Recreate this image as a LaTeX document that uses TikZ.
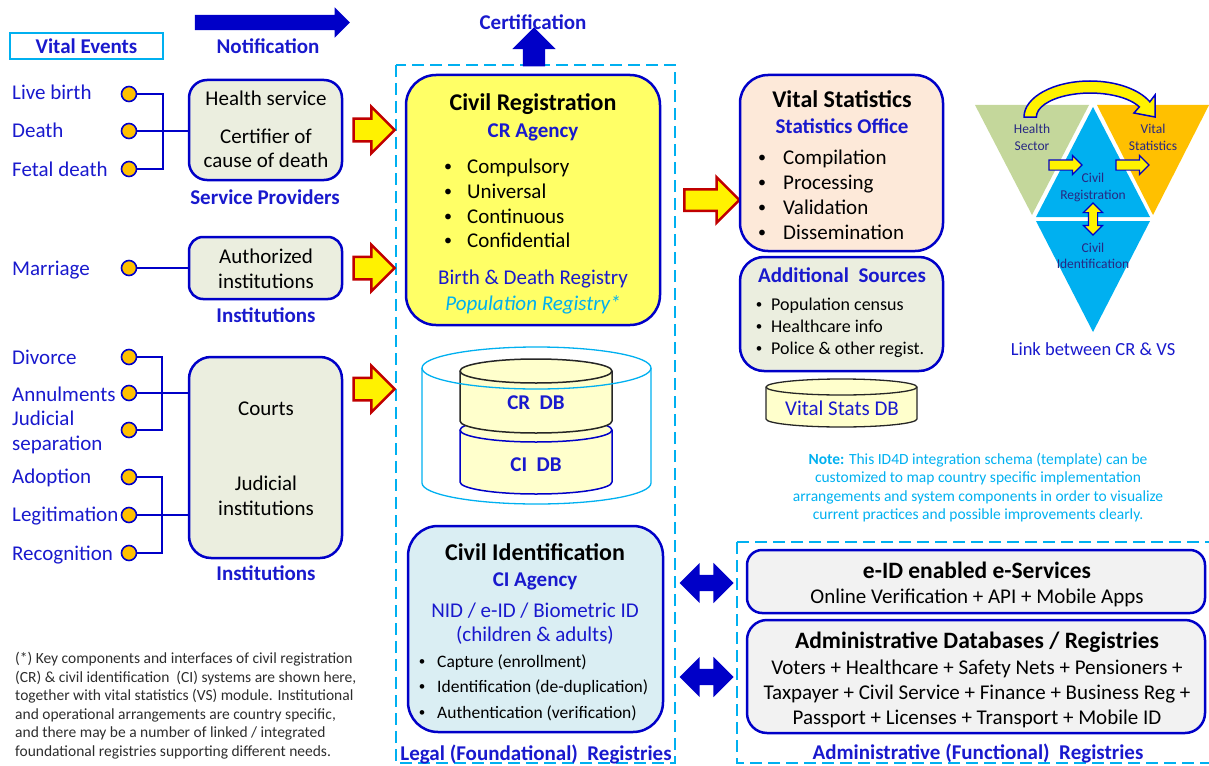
\documentclass[tikz,border=0pt]{standalone}
\usepackage{fontspec}
\setmainfont{Carlito}
\usetikzlibrary{arrows,positioning,shapes,calc}

\definecolor{txtblue}{RGB}{25,25,205}
\definecolor{boxblue}{RGB}{0,0,200}
\definecolor{skyline}{HTML}{00B0F0}
\definecolor{sagefill}{HTML}{EBEEDF}
\definecolor{crfill}{HTML}{FFFF66}
\definecolor{vsfill}{HTML}{FDE9D9}
\definecolor{cifill}{HTML}{DAEEF3}
\definecolor{greyfill}{HTML}{F2F2F2}
\definecolor{dbfill}{HTML}{FFFFCC}
\definecolor{dotfill}{HTML}{FFC000}
\definecolor{arrred}{HTML}{C00000}
\definecolor{trigreen}{HTML}{C4D79B}
\definecolor{triorange}{HTML}{FFC000}
\definecolor{tritext}{RGB}{40,40,130}
\definecolor{notegrey}{RGB}{45,45,45}

\newcommand{\fs}[2]{\fontsize{#1}{#2}\selectfont}

\tikzset{
  box/.style={draw=boxblue, line width=2.5pt, rounded corners=18pt, inner sep=0pt},
  dashbox/.style={draw=skyline, line width=2pt, dash pattern=on 12pt off 6pt},
  plain/.style={anchor=base, inner sep=0pt, font=\fs{21}{25}},
  evt/.style={plain, anchor=base west, text=txtblue},
  head/.style={plain, text=txtblue, font=\bfseries\fs{21}{25}},
  title/.style={plain, font=\bfseries\fs{24}{28}},
  small/.style={plain, font=\fs{17.5}{21}},
  bul/.style={plain, font=\fs{16}{18}, yshift=1.5pt},
  smallbul/.style={plain, font=\fs{13}{16}, yshift=1.2pt},
  dot/.style={circle, draw=boxblue, line width=1.6pt, fill=dotfill, minimum size=15pt, inner sep=0pt},
  link/.style={draw=boxblue, line width=2pt},
  feed/.style={single arrow, draw=arrred, line width=2.5pt, fill=yellow, inner xsep=0pt, inner ysep=10pt,
    minimum height=41pt, minimum width=44pt, single arrow head extend=12pt},
  push/.style={double arrow, fill=boxblue, inner xsep=0pt, inner ysep=8pt,
    minimum height=54pt, minimum width=40pt, double arrow head extend=12pt},
  tiny/.style={single arrow, draw=boxblue, line width=1.2pt, fill=yellow, inner xsep=0pt, inner ysep=4.5pt,
    minimum height=33pt, minimum width=18pt, single arrow head extend=4.5pt},
  tritxt/.style={plain, text=tritext, font=\fs{13.5}{16}},
  notetxt/.style={plain, text=skyline, font=\fs{15.5}{18.5}},
  foot/.style={plain, anchor=base west, text=notegrey, font=\fs{15.5}{18.5}}
}

\begin{document}
\begin{tikzpicture}[x=1pt,y=-1pt]
  \useasboundingbox (0,0) rectangle (1209,765);
  % registry frames
  \draw[dashbox] (396,65) rectangle (675,763);
  \draw[dashbox] (737,542) rectangle (1215,763);
  \node[head] (legalLbl) at (536,760) {Legal (Foundational)~ Registries};
  \node[head] (adminLbl) at (978,759) {Administrative (Functional)~ Registries};

  % top labels
  \node[draw=skyline, line width=2pt, minimum width=153pt, minimum height=26pt, text=txtblue,
    font=\bfseries\fs{21}{25}] (vitalEvents) at (86.5,46) {Vital Events};
  \node[single arrow, fill=boxblue, inner xsep=0pt, inner ysep=7.5pt, minimum height=155pt,
    minimum width=30pt, single arrow head extend=7.5pt] (notifyArr) at (268.5,22.5) {};
  \node[head] (notifyLbl) at (268,54) {Notification};
  \node[single arrow, fill=boxblue, shape border rotate=90, inner xsep=11pt, inner ysep=0pt,
    minimum height=39pt, minimum width=43pt, single arrow head extend=10.5pt] (certArr) at (534,52.5) {};
  \node[head] (certLbl) at (533,30) {Certification};

  % vital events
  \node[evt] (eLive) at (12,100) {Live birth};
  \node[evt] (eDeath) at (12,138) {Death};
  \node[evt] (eFetal) at (12,176) {Fetal death};
  \node[evt] (eMarriage) at (12,275) {Marriage};
  \node[evt] (eDivorce) at (12,364) {Divorce};
  \node[evt] (eAnnul) at (12,401) {Annulments};
  \node[evt] (eJudicial) at (12,425) {Judicial};
  \node[evt] (eSeparation) at (12,450) {separation};
  \node[evt] (eAdopt) at (12,483) {Adoption};
  \node[evt] (eLegit) at (12,521) {Legitimation};
  \node[evt] (eRecog) at (12,560) {Recognition};

  \node[dot] (dLive) at (129,94) {};
  \node[dot] (dDeath) at (129,131) {};
  \node[dot] (dFetal) at (129,169) {};
  \node[dot] (dMarriage) at (129,268) {};
  \node[dot] (dDivorce) at (129,357) {};
  \node[dot] (dAnnul) at (129,393) {};
  \node[dot] (dJudSep) at (129,430) {};
  \node[dot] (dAdopt) at (129,477) {};
  \node[dot] (dLegit) at (129,515) {};
  \node[dot] (dRecog) at (129,553) {};

  % providers and institutions
  \node[box, fill=sagefill, minimum width=153pt, minimum height=100pt] (health) at (265.5,130) {};
  \node[plain] (healthA) at (266,106) {Health service};
  \node[plain] (healthB) at (266,143) {Certifier of};
  \node[plain] (healthC) at (266,167) {cause of death};
  \node[head] (providersLbl) at (265,204) {Service Providers};

  \node[box, rounded corners=14pt, fill=sagefill, minimum width=153pt, minimum height=62pt] (auth) at (265.5,268) {};
  \node[plain] (authA) at (266,263) {Authorized};
  \node[plain] (authB) at (266,288) {institutions};
  \node[head] (instLblA) at (266,322) {Institutions};

  \node[box, rounded corners=22pt, fill=sagefill, minimum width=153pt, minimum height=201pt] (courts) at (265.5,457.5) {};
  \node[plain] (courtsA) at (266,415) {Courts};
  \node[plain] (courtsB) at (266,490) {Judicial};
  \node[plain] (courtsC) at (266,515) {institutions};
  \node[head] (instLblB) at (266,580) {Institutions};

  \coordinate (jBirth) at (163,131);
  \draw[link] (dLive) -| (jBirth) |- (dFetal);
  \draw[link] (dDeath) -- (dDeath -| health.west);
  \draw[link] (dMarriage) -- (dMarriage -| auth.west);
  \coordinate (jCourtA) at (162,393);
  \draw[link] (dDivorce) -| (jCourtA) |- (dJudSep);
  \draw[link] (dAnnul) -- (dAnnul -| courts.west);
  \coordinate (jCourtB) at (162,515);
  \draw[link] (dAdopt) -| (jCourtB) |- (dRecog);
  \draw[link] (dLegit) -- (dLegit -| courts.west);

  \node[feed] (fHealth) at (368.5,130) {};
  \node[feed] (fAuth) at (368.5,268) {};
  \node[feed] (fCourts) at (368.5,389) {};

  % civil registration
  \node[box, rounded corners=30pt, fill=crfill, minimum width=254pt, minimum height=250pt] (cr) at (533,200) {};
  \node[title] (crTitle) at (533,111) {Civil Registration};
  \node[head] (crAgency) at (533,137) {CR Agency};
  \foreach \txt/\yy [count=\i] in {Compulsory/173, Universal/198, Continuous/223, Confidential/247} {
    \node[bul] (crBul\i) at (448,\yy) {\textbullet};
    \node[plain, anchor=base west] (crItem\i) at (467,\yy) {\txt};
  }
  \node[plain, text=txtblue] (crReg) at (533,284) {Birth \& Death Registry};
  \node[plain, text=skyline, font=\itshape\fs{21}{25}] (crPop) at (533,310) {Population Registry*};

  % databases
  \draw[boxblue, line width=1.5pt, fill=dbfill] (460,430) -- (460,482)
    arc[start angle=180, end angle=0, x radius=76, y radius=12] -- (612,430)
    arc[start angle=0, end angle=-180, x radius=76, y radius=12] -- cycle;
  \draw[boxblue, line width=1.5pt] (460,430) arc[start angle=180, end angle=0, x radius=76, y radius=12];
  \draw[black!85, line width=1.5pt, fill=dbfill] (460,371) -- (460,421)
    arc[start angle=180, end angle=0, x radius=76, y radius=12] -- (612,371)
    arc[start angle=0, end angle=-180, x radius=76, y radius=12] -- cycle;
  \draw[black!85, line width=1.5pt] (460,371) arc[start angle=180, end angle=0, x radius=76, y radius=12];
  \draw[skyline, line width=1.3pt] (422,368) -- (422,483)
    arc[start angle=180, end angle=0, x radius=114.5, y radius=21] -- (651,368)
    arc[start angle=0, end angle=-180, x radius=114.5, y radius=21] -- cycle;
  \draw[skyline, line width=1.3pt] (422,368) arc[start angle=180, end angle=0, x radius=114.5, y radius=21];
  \node[head] (crDb) at (536,409) {CR~ DB};
  \node[head] (ciDb) at (536,471) {CI~ DB};

  % civil identification
  \node[box, rounded corners=30pt, fill=cifill, minimum width=255pt, minimum height=206pt] (ci) at (535.5,629) {};
  \node[title] (ciTitle) at (535,560) {Civil Identification};
  \node[head] (ciAgency) at (535,586) {CI Agency};
  \node[plain, text=txtblue] (ciNid) at (535,617) {NID / e-ID / Biometric ID};
  \node[plain, text=txtblue] (ciWho) at (535,641) {(children \& adults)};
  \foreach \txt/\yy [count=\i] in {Capture (enrollment)/667, Identification (de-duplication)/692, Authentication (verification)/718} {
    \node[smallbul] (ciBul\i) at (422,\yy) {\textbullet};
    \node[small, anchor=base west] (ciItem\i) at (437,\yy) {\txt};
  }

  % vital statistics
  \node[feed, minimum height=55pt, minimum width=43pt, inner ysep=9.5pt, single arrow head extend=12pt] (fVs) at (706.5,200) {};
  \node[box, rounded corners=28pt, fill=vsfill, minimum width=203pt, minimum height=176pt] (vs) at (841.5,163) {};
  \node[title] (vsTitle) at (842,107) {Vital Statistics};
  \node[head] (vsOffice) at (842,133) {Statistics Office};
  \foreach \txt/\yy [count=\i] in {Compilation/164, Processing/189, Validation/214, Dissemination/239} {
    \node[bul] (vsBul\i) at (762,\yy) {\textbullet};
    \node[plain, anchor=base west] (vsItem\i) at (783,\yy) {\txt};
  }
  \node[box, rounded corners=24pt, fill=sagefill, minimum width=203pt, minimum height=114pt] (addSrc) at (841.5,314) {};
  \node[head] (addTitle) at (842,282) {Additional~ Sources};
  \foreach \txt/\yy [count=\i] in {Population census/310, Healthcare info/332, Police \& other regist./354} {
    \node[smallbul] (addBul\i) at (759,\yy) {\textbullet};
    \node[plain, anchor=base west, font=\fs{18}{21}] (addItem\i) at (771,\yy) {\txt};
  }
  \draw[black!85, line width=1.3pt, fill=dbfill] (766,387) -- (766,419)
    arc[start angle=180, end angle=0, x radius=75.5, y radius=8] -- (917,387)
    arc[start angle=0, end angle=-180, x radius=75.5, y radius=8] -- cycle;
  \draw[black!85, line width=1.3pt] (766,387) arc[start angle=180, end angle=0, x radius=75.5, y radius=8];
  \node[plain, text=txtblue] (vsDb) at (842,415) {Vital Stats DB};

  % link between CR and VS
  \fill[trigreen] (975,105) -- (1089,105) -- (1032,215) -- cycle;
  \fill[triorange] (1097,105) -- (1209,105) -- (1153,215) -- cycle;
  \fill[skyline] (1093,107) -- (1150,217) -- (1036,217) -- cycle;
  \fill[skyline] (1036,221) -- (1150,221) -- (1093,332) -- cycle;
  \draw[boxblue, line width=1.5pt, fill=yellow] (1024,117)
    arc[start angle=180, end angle=335, x radius=66, y radius=36]
    -- (1155,95) -- (1155,117) -- (1134,113) -- (1139.3,106.9)
    arc[start angle=335, end angle=180, x radius=54, y radius=24] -- cycle;
  \node[tritxt] (triHealthA) at (1032,133) {Health};
  \node[tritxt] (triHealthB) at (1032,150) {Sector};
  \node[tritxt] (triVsA) at (1153,133) {Vital};
  \node[tritxt] (triVsB) at (1153,150) {Statistics};
  \node[tritxt] (triCrA) at (1093,182) {Civil};
  \node[tritxt] (triCrB) at (1093,199) {Registration};
  \node[tritxt] (triCiA) at (1093,252) {Civil};
  \node[tritxt] (triCiB) at (1093,268) {Identification};
  \node[tiny] (tHealth) at (1063,165) {};
  \node[tiny] (tVs) at (1130,165) {};
  \node[double arrow, draw=boxblue, line width=1.2pt, fill=yellow, shape border rotate=90, inner xsep=4pt,
    inner ysep=0pt, minimum height=32pt, minimum width=18pt, double arrow head extend=5pt] (tCi) at (1093,219) {};
  \node[plain, text=txtblue, font=\fs{18.5}{22}] (linkLbl) at (1093,355) {Link between CR \& VS};

  % note
  \node[notetxt] (noteA) at (978,464) {\textbf{Note:} This ID4D integration schema (template) can be};
  \node[notetxt] (noteB) at (978,482) {customized to map country specific implementation};
  \node[notetxt] (noteC) at (978,501) {arrangements and system components in order to visualize};
  \node[notetxt] (noteD) at (978,519) {current practices and possible improvements clearly.};

  % functional registries
  \node[push] (pEid) at (706.5,583) {};
  \node[push] (pAdmin) at (706.5,677) {};
  \node[box, rounded corners=15pt, fill=greyfill, minimum width=458pt, minimum height=63pt] (eid) at (976,581.5) {};
  \node[title, font=\bfseries\fs{23.5}{28}] (eidTitle) at (977,578) {e-ID enabled e-Services};
  \node[plain] (eidText) at (977,603) {Online Verification + API + Mobile Apps};
  \node[box, rounded corners=20pt, fill=greyfill, minimum width=458pt, minimum height=113pt] (admin) at (976,676.5) {};
  \node[title, font=\bfseries\fs{23.5}{28}] (adminTitle) at (977,648) {Administrative Databases / Registries};
  \node[plain] (adminA) at (977,674) {Voters + Healthcare + Safety Nets + Pensioners +};
  \node[plain] (adminB) at (977,699) {Taxpayer + Civil Service + Finance + Business Reg +};
  \node[plain] (adminC) at (977,724) {Passport + Licenses + Transport + Mobile ID};

  % footnote
  \foreach \txt/\yy [count=\i] in {{(*) Key components and interfaces of civil registration}/663,
    {(CR) \& civil identification~ (CI) systems are shown here,}/682,
    {together with vital statistics (VS) module. Institutional}/700,
    {and operational arrangements are country specific,}/719,
    {and there may be a number of linked / integrated}/737,
    {foundational registries supporting different needs.}/756} {
    \node[foot] (foot\i) at (15,\yy) {\txt};
  }
\end{tikzpicture}
\end{document}
